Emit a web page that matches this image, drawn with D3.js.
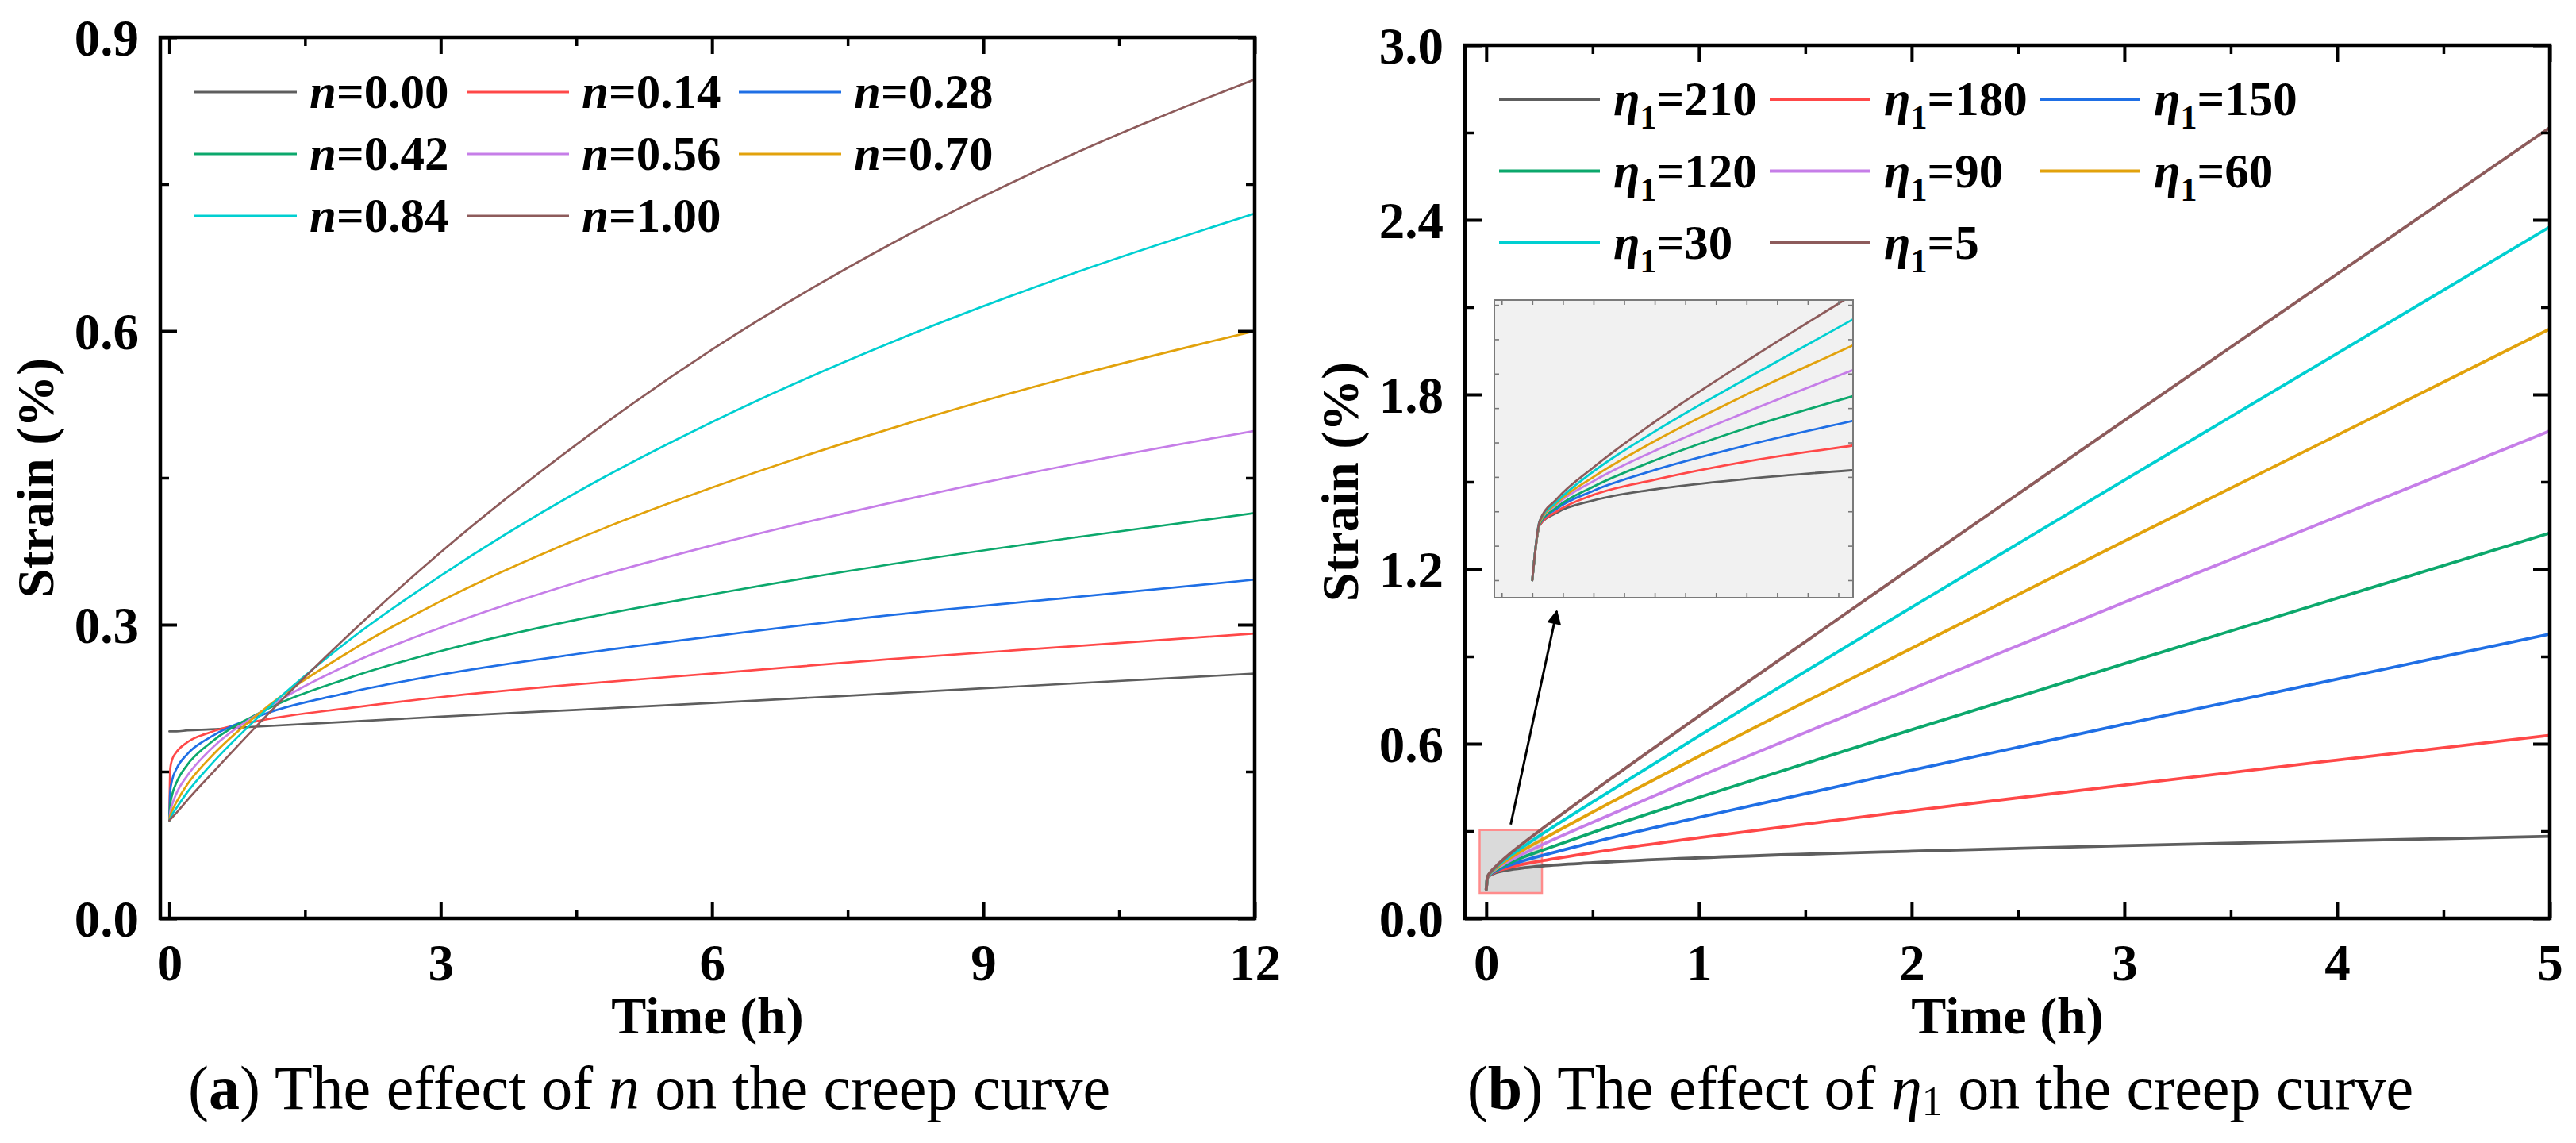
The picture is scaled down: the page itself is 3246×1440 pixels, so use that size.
<!DOCTYPE html>
<html>
<head>
<meta charset="utf-8">
<script src="https://cdn.jsdelivr.net/npm/d3@7"></script>
<style>
html,body{margin:0;padding:0;background:#fff;}
svg{display:block;}
</style>
</head>
<body>
<svg id="chart" width="3246" height="1440" xmlns="http://www.w3.org/2000/svg"></svg>
<script>
// ---------------- DATA ----------------
// Panel (a): effect of n
const timeA = [0, 0.01, 0.03, 0.08, 0.2, 0.45, 1, 2, 3, 4.5, 6, 8, 10, 12];
const strainN000 = [0.191, 0.191, 0.191, 0.191, 0.192, 0.193, 0.196, 0.201, 0.206, 0.213, 0.220, 0.230, 0.240, 0.250];
const strainN014 = [0.100, 0.153, 0.162, 0.170, 0.180, 0.190, 0.202, 0.215, 0.226, 0.239, 0.250, 0.265, 0.278, 0.291];
const strainN028 = [0.100, 0.130, 0.141, 0.153, 0.168, 0.185, 0.207, 0.231, 0.249, 0.270, 0.288, 0.310, 0.328, 0.346];
const strainN042 = [0.100, 0.116, 0.126, 0.139, 0.157, 0.179, 0.210, 0.246, 0.273, 0.305, 0.331, 0.362, 0.389, 0.414];
const strainN056 = [0.100, 0.109, 0.116, 0.128, 0.146, 0.172, 0.210, 0.260, 0.297, 0.343, 0.381, 0.425, 0.464, 0.498];
const strainN070 = [0.100, 0.105, 0.110, 0.119, 0.137, 0.164, 0.210, 0.273, 0.324, 0.387, 0.440, 0.501, 0.554, 0.600];
const strainN084 = [0.100, 0.102, 0.106, 0.113, 0.129, 0.156, 0.207, 0.285, 0.350, 0.435, 0.507, 0.589, 0.659, 0.720];
const strainN100 = [0.100, 0.101, 0.103, 0.108, 0.121, 0.146, 0.200, 0.291, 0.374, 0.484, 0.581, 0.690, 0.781, 0.857];
const nLabels = ["0.00", "0.14", "0.28", "0.42", "0.56", "0.70", "0.84", "1.00"];
const seriesA = [strainN000, strainN014, strainN028, strainN042, strainN056, strainN070, strainN084, strainN100];
const xTicksA = [0, 3, 6, 9, 12];
const xMinorA = [1.5, 4.5, 7.5, 10.5];
const yTicksA = [0, 0.3, 0.6, 0.9];
const yMinorA = [0.15, 0.45, 0.75];

// Panel (b): effect of eta1
const timeB = [0, 0.006, 0.02, 0.05, 0.1, 0.18, 0.263, 0.5, 1, 2, 3, 4, 5];
const strainE210 = [0.100, 0.140, 0.149, 0.158, 0.166, 0.174, 0.180, 0.191, 0.208, 0.231, 0.250, 0.266, 0.282];
const strainE180 = [0.100, 0.140, 0.150, 0.162, 0.173, 0.187, 0.198, 0.226, 0.277, 0.370, 0.458, 0.544, 0.629];
const strainE150 = [0.100, 0.141, 0.152, 0.165, 0.180, 0.199, 0.216, 0.261, 0.347, 0.509, 0.667, 0.822, 0.977];
const strainE120 = [0.100, 0.141, 0.153, 0.168, 0.187, 0.212, 0.234, 0.295, 0.416, 0.648, 0.875, 1.100, 1.324];
const strainE90  = [0.100, 0.142, 0.155, 0.172, 0.194, 0.224, 0.253, 0.330, 0.487, 0.788, 1.086, 1.380, 1.675];
const strainE60  = [0.100, 0.142, 0.156, 0.175, 0.201, 0.237, 0.271, 0.365, 0.557, 0.928, 1.296, 1.660, 2.025];
const strainE30  = [0.100, 0.143, 0.157, 0.179, 0.208, 0.249, 0.290, 0.400, 0.627, 1.069, 1.506, 1.941, 2.376];
const strainE5   = [0.100, 0.143, 0.159, 0.182, 0.215, 0.262, 0.308, 0.435, 0.695, 1.205, 1.711, 2.214, 2.717];
const etaLabels = ["210", "180", "150", "120", "90", "60", "30", "5"];
const seriesB = [strainE210, strainE180, strainE150, strainE120, strainE90, strainE60, strainE30, strainE5];
const xTicksB = [0, 1, 2, 3, 4, 5];
const xMinorB = [0.5, 1.5, 2.5, 3.5, 4.5];
const yTicksB = [0, 0.6, 1.2, 1.8, 2.4, 3.0];
const yMinorB = [0.3, 0.9, 1.5, 2.1, 2.7];

// Zoomed window (inset) of panel (b)
const insetTimeRange = [-0.031, 0.262];
const insetStrainRange = [0.0873, 0.3035];
const insetXTicks = [-0.025, 0, 0.025, 0.05, 0.075, 0.1, 0.125, 0.15, 0.175, 0.2, 0.225, 0.25];
const insetYTicks = [0.1, 0.125, 0.15, 0.175, 0.2, 0.225, 0.25, 0.275, 0.3];

// ---------------- STYLE ----------------
const palette = ["#5e5e5e", "#ff4848", "#1f6fe5", "#0ca86c", "#c67ee8", "#e2a20c", "#00cfd1", "#8d5b5b"];
const FONT = "'Liberation Serif','Times New Roman',Times,serif";

const svg = d3.select("#chart");
const defs = svg.append("defs");

function makePanel(cfg) {
  const x = d3.scaleLinear().domain(cfg.xDomain).range([cfg.left, cfg.right]);
  const y = d3.scaleLinear().domain(cfg.yDomain).range([cfg.bottom, cfg.top]);
  defs.append("clipPath").attr("id", cfg.id + "clip").append("rect")
    .attr("x", cfg.left).attr("y", cfg.top)
    .attr("width", cfg.right - cfg.left).attr("height", cfg.bottom - cfg.top);
  return { x, y, cfg };
}

function styleAxis(sel, width) {
  sel.select(".domain").remove();
  sel.selectAll(".tick line").attr("stroke", "#000").attr("stroke-width", width);
  sel.attr("font-family", FONT).attr("font-size", 65).attr("font-weight", "bold");
}

function drawAxes(p, xMajor, xMinor, yMajor, yMinor, yFmt) {
  const { x, y, cfg } = p;
  const g = svg.append("g");
  const MAJ = 21, MIN = 11;
  // bottom
  const b = g.append("g").attr("transform", `translate(0,${cfg.bottom})`)
    .call(d3.axisBottom(x).tickValues(xMajor).tickSize(-MAJ).tickFormat(d3.format("d")));
  styleAxis(b, 4);
  b.selectAll(".tick text").attr("y", 78).attr("dy", 0).attr("fill", "#000");
  const bm = g.append("g").attr("transform", `translate(0,${cfg.bottom})`)
    .call(d3.axisBottom(x).tickValues(xMinor).tickSize(-MIN).tickFormat(""));
  styleAxis(bm, 3.5);
  // top
  const t = g.append("g").attr("transform", `translate(0,${cfg.top})`)
    .call(d3.axisTop(x).tickValues(xMajor).tickSize(-MAJ).tickFormat(""));
  styleAxis(t, 4);
  const tm = g.append("g").attr("transform", `translate(0,${cfg.top})`)
    .call(d3.axisTop(x).tickValues(xMinor).tickSize(-MIN).tickFormat(""));
  styleAxis(tm, 3.5);
  // left
  const l = g.append("g").attr("transform", `translate(${cfg.left},0)`)
    .call(d3.axisLeft(y).tickValues(yMajor).tickSize(-MAJ).tickPadding(27).tickFormat(yFmt));
  styleAxis(l, 4);
  l.selectAll(".tick text").attr("dy", "0.34em").attr("fill", "#000");
  const lm = g.append("g").attr("transform", `translate(${cfg.left},0)`)
    .call(d3.axisLeft(y).tickValues(yMinor).tickSize(-MIN).tickFormat(""));
  styleAxis(lm, 3.5);
  // right
  const r = g.append("g").attr("transform", `translate(${cfg.right},0)`)
    .call(d3.axisRight(y).tickValues(yMajor).tickSize(-MAJ).tickFormat(""));
  styleAxis(r, 4);
  const rm = g.append("g").attr("transform", `translate(${cfg.right},0)`)
    .call(d3.axisRight(y).tickValues(yMinor).tickSize(-MIN).tickFormat(""));
  styleAxis(rm, 3.5);
  // frame
  g.append("rect").attr("x", cfg.left).attr("y", cfg.top)
    .attr("width", cfg.right - cfg.left).attr("height", cfg.bottom - cfg.top)
    .attr("fill", "none").attr("stroke", "#000").attr("stroke-width", 4.5);
  // titles
  g.append("text").attr("x", (cfg.left + cfg.right) / 2).attr("y", 1302)
    .attr("text-anchor", "middle").attr("font-family", FONT).attr("font-size", 66)
    .attr("font-weight", "bold").text("Time (h)");
  g.append("text").attr("transform", `translate(${cfg.yTitleX},${(cfg.top + cfg.bottom) / 2}) rotate(-90)`)
    .attr("text-anchor", "middle").attr("font-family", FONT).attr("font-size", 66)
    .attr("font-weight", "bold").text("Strain (%)");
}

function drawCurves(parent, x, y, times, series, width, clipId) {
  const line = d3.line().x((d, i) => x(times[i])).y(d => y(d)).curve(d3.curveMonotoneX);
  const g = parent.append("g").attr("clip-path", `url(#${clipId})`);
  g.selectAll("path").data(series).join("path")
    .attr("d", d => line(d)).attr("fill", "none")
    .attr("stroke", (d, i) => palette[i]).attr("stroke-width", width)
    .attr("stroke-linejoin", "round").attr("stroke-linecap", "round");
}

// ---------------- PANEL (a) ----------------
const pA = makePanel({ id: "pa", left: 202, right: 1581, top: 47, bottom: 1157,
  xDomain: [-0.1, 12], yDomain: [0, 0.9], yTitleX: 67 });
drawCurves(svg, pA.x, pA.y, timeA, seriesA, 2.7, "paclip");
drawAxes(pA, xTicksA, xMinorA, yTicksA, yMinorA, d3.format(".1f"));

// legend (a)
const legA = svg.append("g").attr("font-family", FONT).attr("font-size", 61).attr("font-weight", "bold");
const legAcols = [245, 588, 931], legArows = [116, 194, 272];
nLabels.forEach((lab, i) => {
  const cx = legAcols[i % 3], cy = legArows[Math.floor(i / 3)];
  legA.append("line").attr("x1", cx).attr("x2", cx + 129).attr("y1", cy).attr("y2", cy)
    .attr("stroke", palette[i]).attr("stroke-width", 3);
  const t = legA.append("text").attr("x", cx + 145).attr("y", cy + 20);
  t.append("tspan").attr("font-style", "italic").text("n");
  t.append("tspan").text("=" + lab);
});

// ---------------- PANEL (b) ----------------
const pB = makePanel({ id: "pb", left: 1846, right: 3213, top: 57, bottom: 1157,
  xDomain: [-0.1, 5], yDomain: [0, 3.0], yTitleX: 1711 });

// zoom window marker
svg.append("rect")
  .attr("x", pB.x(insetTimeRange[0])).attr("y", pB.y(insetStrainRange[1]))
  .attr("width", pB.x(insetTimeRange[1]) - pB.x(insetTimeRange[0]))
  .attr("height", pB.y(insetStrainRange[0]) - pB.y(insetStrainRange[1]))
  .attr("fill", "#dadada").attr("stroke", "#ff8c8c").attr("stroke-width", 2.5);

drawCurves(svg, pB.x, pB.y, timeB, seriesB, 3.8, "pbclip");
drawAxes(pB, xTicksB, xMinorB, yTicksB, yMinorB, d3.format(".1f"));

// inset
const inset = { left: 1883, right: 2335, top: 378, bottom: 753 };
const xI = d3.scaleLinear().domain(insetTimeRange).range([inset.left, inset.right]);
const yI = d3.scaleLinear().domain(insetStrainRange).range([inset.bottom, inset.top]);
defs.append("clipPath").attr("id", "insetclip").append("rect")
  .attr("x", inset.left).attr("y", inset.top)
  .attr("width", inset.right - inset.left).attr("height", inset.bottom - inset.top);
const gI = svg.append("g");
gI.append("rect").attr("x", inset.left).attr("y", inset.top)
  .attr("width", inset.right - inset.left).attr("height", inset.bottom - inset.top)
  .attr("fill", "#f1f1f1");
drawCurves(gI, xI, yI, timeB, seriesB, 2.8, "insetclip");
function insetAxis(axisFn, scale, ticks, transform) {
  const a = gI.append("g").attr("transform", transform)
    .call(axisFn(scale).tickValues(ticks).tickSize(-6).tickFormat(""));
  a.select(".domain").remove();
  a.selectAll(".tick line").attr("stroke", "#777").attr("stroke-width", 1.6);
}
insetAxis(d3.axisBottom, xI, insetXTicks, `translate(0,${inset.bottom})`);
insetAxis(d3.axisTop, xI, insetXTicks, `translate(0,${inset.top})`);
insetAxis(d3.axisLeft, yI, insetYTicks, `translate(${inset.left},0)`);
insetAxis(d3.axisRight, yI, insetYTicks, `translate(${inset.right},0)`);
gI.append("rect").attr("x", inset.left).attr("y", inset.top)
  .attr("width", inset.right - inset.left).attr("height", inset.bottom - inset.top)
  .attr("fill", "none").attr("stroke", "#7a7a7a").attr("stroke-width", 2);

// arrow from zoom window to inset
defs.append("marker").attr("id", "arrowhead").attr("viewBox", "0 0 10 10")
  .attr("refX", 9).attr("refY", 5).attr("markerWidth", 10).attr("markerHeight", 6)
  .attr("markerUnits", "strokeWidth").attr("orient", "auto")
  .append("path").attr("d", "M0,0 L10,5 L0,10 Z").attr("fill", "#000");
svg.append("line")
  .attr("x1", pB.x(0.115)).attr("y1", pB.y(insetStrainRange[1]) - 7)
  .attr("x2", xI(0.02)).attr("y2", inset.bottom + 17)
  .attr("stroke", "#000").attr("stroke-width", 3).attr("marker-end", "url(#arrowhead)");

// legend (b)
const legB = svg.append("g").attr("font-family", FONT).attr("font-size", 61).attr("font-weight", "bold");
const legBcols = [1889, 2230, 2570], legBrows = [125, 215.5, 305.5];
etaLabels.forEach((lab, i) => {
  const cx = legBcols[i % 3], cy = legBrows[Math.floor(i / 3)];
  legB.append("line").attr("x1", cx).attr("x2", cx + 127).attr("y1", cy).attr("y2", cy)
    .attr("stroke", palette[i]).attr("stroke-width", 4);
  const t = legB.append("text").attr("x", cx + 144).attr("y", cy + 20);
  t.append("tspan").attr("font-style", "italic").text("η");
  t.append("tspan").attr("font-size", 42).attr("dy", 17).text("1");
  t.append("tspan").attr("dy", -17).text("=" + lab);
});

// ---------------- CAPTIONS ----------------
const capA = svg.append("text").attr("x", 818).attr("y", 1397).attr("text-anchor", "middle")
  .attr("font-family", FONT).attr("font-size", 78);
capA.append("tspan").text("(");
capA.append("tspan").attr("font-weight", "bold").text("a");
capA.append("tspan").text(") The effect of ");
capA.append("tspan").attr("font-style", "italic").text("n");
capA.append("tspan").text(" on the creep curve");

const capB = svg.append("text").attr("x", 2445).attr("y", 1397).attr("text-anchor", "middle")
  .attr("font-family", FONT).attr("font-size", 78);
capB.append("tspan").text("(");
capB.append("tspan").attr("font-weight", "bold").text("b");
capB.append("tspan").text(") The effect of ");
capB.append("tspan").attr("font-style", "italic").text("η");
capB.append("tspan").attr("font-size", 52).attr("dy", 8).text("1");
capB.append("tspan").attr("dy", -8).text(" on the creep curve");
</script>
</body>
</html>
